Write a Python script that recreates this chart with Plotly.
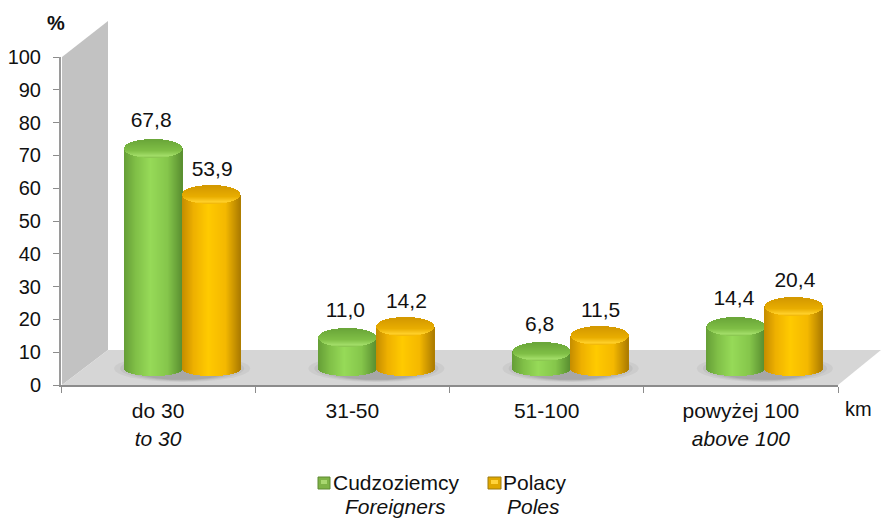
import math
import plotly.graph_objects as go

categories = ["do 30<br><i>to 30</i>", "31-50", "51-100", "powyżej 100<br><i>above 100</i>"]
foreigners = [67.8, 11.0, 6.8, 14.4]
poles = [53.9, 14.2, 11.5, 20.4]
y_ticks = list(range(0, 101, 10))
FONT = "Liberation Sans, Arial, sans-serif"
TEXT = "#111111"

W, H = 881, 520
L, R, T, B = 61, 43, 57, 135
PW, PH = W - L - R, H - T - B
UX = PW / 4          # px per category
UY = 3.33            # px per unit on bar axis
ZERO_PX = 374        # pixel of value 0 on the bar axis
SHIFT = 24 / UX      # depth shift of bars vs. axis categories


def hexrgb(c):
    return tuple(int(c[i:i + 2], 16) for i in (1, 3, 5))


def ramp(stops, p):
    for (p0, c0), (p1, c1) in zip(stops, stops[1:]):
        if p <= p1:
            f = (p - p0) / (p1 - p0) if p1 > p0 else 0
            a, b = hexrgb(c0), hexrgb(c1)
            return "rgb(%d,%d,%d)" % tuple(round(a[i] + (b[i] - a[i]) * f) for i in range(3))
    return stops[-1][1]


GREEN_BODY = [(-1, "#659e36"), (-.6, "#80bf47"), (-.1, "#96da58"), (.5, "#85c64b"), (1, "#598f30")]
ORANGE_BODY = [(-1, "#c48c00"), (-.6, "#eeb000"), (-.1, "#ffca00"), (.5, "#f4b800"), (1, "#ad7c00")]
GREEN_CAP = [(0, "#6aa639"), (.6, "#80bf46"), (.88, "#a2dd68"), (1, "#86c24b")]
ORANGE_CAP = [(0, "#d39800"), (.6, "#e9ae00"), (.88, "#ffd02a"), (1, "#f0b400")]

HALF_W = 29 / UX
CAP_B = 9 / UY
BOT_B = 7 / UY
EDGE = 5 / UY
STEP_X = 1 / UX


def cylinder_traces(values, dx, body, cap, name):
    xs, bases, hs, cols = [], [], [], []
    cap_y, cap_base, cap_w, cap_cols = [], [], [], []
    n = int(round(2 * HALF_W / STEP_X))
    for i, v in enumerate(values):
        c = i + dx
        for k in range(n):
            t = -1 + (2 * k + 1) / n
            base = EDGE - BOT_B * math.sqrt(1 - t * t)
            xs.append(c + HALF_W * t)
            bases.append(base)
            hs.append(v - base)
            cols.append(ramp(body, t))
        m = 18
        for k in range(m):
            s = -1 + (2 * k + 1) / m
            hw = HALF_W * math.sqrt(1 - s * s)
            cap_y.append(v + CAP_B * s)
            cap_base.append(c - hw)
            cap_w.append(2 * hw)
            cap_cols.append(ramp(cap, 1 - (k + .5) / m))
    return [
        go.Bar(x=xs, y=hs, base=bases, width=STEP_X, marker=dict(color=cols, line=dict(width=0)),
               xaxis="x2", yaxis="y2", hoverinfo="skip", showlegend=False, name=name),
        go.Bar(y=cap_y, x=cap_w, base=cap_base, orientation="h", width=2 * CAP_B / 18,
               marker=dict(color=cap_cols, line=dict(width=0)),
               xaxis="x2", yaxis="y2", hoverinfo="skip", showlegend=False, name=name + " cap"),
    ]


DX = 29 / UX
fig = go.Figure()
# anchors the visible axes
fig.add_trace(go.Scatter(x=[0], y=[0], mode="markers", marker=dict(opacity=0), hoverinfo="skip",
                         showlegend=False, name="axes"))
fig.add_traces(cylinder_traces(foreigners, -DX, GREEN_BODY, GREEN_CAP, "Cudzoziemcy"))
fig.add_traces(cylinder_traces(poles, DX, ORANGE_BODY, ORANGE_CAP, "Polacy"))


def label_trace(values, dx, dy, name):
    return go.Scatter(x=[i + dx for i in range(len(values))], y=[v + dy for v in values],
                      text=[f"{v:.1f}".replace(".", ",") for v in values],
                      mode="text", textposition="middle center",
                      textfont=dict(family=FONT, size=21, color=TEXT),
                      xaxis="x2", yaxis="y2", hoverinfo="skip", showlegend=False, name=name)


fig.add_trace(label_trace(foreigners, -DX - 2 / UX, 26 / UY, "Cudzoziemcy labels"))
fig.add_trace(label_trace(poles, DX + 1 / UX, 24 / UY, "Polacy labels"))


def px(x):
    return (x - L) / PW


def py(y):
    return (T + PH - y) / PH


def poly(pts):
    return "M" + " L".join(f"{px(a):.5f},{py(b):.5f}" for a, b in pts) + " Z"


shapes = [
    dict(type="path", xref="paper", yref="paper", layer="below", line=dict(width=0), fillcolor="#c2c2c2",
         path=poly([(62, 57), (108, 21), (108, 350), (62, 385)])),
    dict(type="path", xref="paper", yref="paper", layer="below", line=dict(width=0), fillcolor="#d6d6d6",
         path=poly([(62, 385), (108, 350), (881, 350), (838, 385)])),
]
# soft contact shadows under each pair of cylinders
for i in range(len(categories)):
    for grow, alpha in ((0, .07), (6, .09), (12, .12), (18, .14)):
        shapes.append(dict(type="circle", xref="x2", yref="y2", layer="below", line=dict(width=0),
                           fillcolor=f"rgba(90,90,90,{alpha})",
                           x0=i - (68 - grow) / UX, x1=i + (68 - grow) / UX,
                           y0=(-3 + grow / 8) / UY - 1.5, y1=(14 - grow / 8) / UY + 1.5))

# legend swatches
LEG = [(318, 330, "#7fb347", "#a9d770", "#5f8a32"), (488, 501, "#e0a800", "#ffd43c", "#9c7a10")]
for x0, x1, fill, hi, edge in LEG:
    shapes.append(dict(type="rect", xref="paper", yref="paper", layer="above",
                       x0=px(x0), x1=px(x1), y0=py(477), y1=py(489),
                       fillcolor=fill, line=dict(color=edge, width=1)))
    shapes.append(dict(type="rect", xref="paper", yref="paper", layer="above",
                       x0=px(x0 + 3), x1=px(x1 - 3), y0=py(480), y1=py(484),
                       fillcolor=hi, line=dict(width=0)))


def note(text, x, y, size=21, anchor="center"):
    return dict(text=text, xref="paper", yref="paper", x=px(x), y=py(y), showarrow=False,
                xanchor=anchor, yanchor="middle", font=dict(family=FONT, size=size, color=TEXT))


annotations = [
    note("<b>%</b>", 56, 23, 20),
    note("km", 858, 409, 20),
    note("Cudzoziemcy", 331, 482, anchor="left"),
    note("<i>Foreigners</i>", 343, 506, anchor="left"),
    note("Polacy", 501, 482, anchor="left"),
    note("<i>Poles</i>", 505, 506, anchor="left"),
]

fig.update_layout(
    width=W, height=H, autosize=False, barmode="overlay", bargap=0,
    margin=dict(l=L, r=R, t=T, b=B, pad=0),
    paper_bgcolor="white", plot_bgcolor="rgba(0,0,0,0)", showlegend=False,
    font=dict(family=FONT, size=20, color=TEXT),
    shapes=shapes, annotations=annotations,
    xaxis=dict(range=[-.5, 3.5], tickmode="array", tickvals=list(range(4)), ticktext=categories,
               ticks="", showgrid=False, zeroline=False, showline=True, linecolor="#8c8c8c", linewidth=2,
               ticklabelstandoff=6, automargin=False,
               minor=dict(tickmode="array", tickvals=[-.5, .5, 1.5, 2.5, 3.5], ticks="outside",
                          ticklen=6, tickcolor="#8c8c8c", tickwidth=1, showgrid=False),
               tickfont=dict(family=FONT, size=21, color=TEXT), fixedrange=True),
    yaxis=dict(range=[0, 100], tickmode="array", tickvals=y_ticks, ticks="outside", ticklen=6,
               tickcolor="#8c8c8c", tickwidth=1, showgrid=False, zeroline=False, showline=True,
               linecolor="#9a9a9a", linewidth=2, ticklabelstandoff=8, automargin=False,
               tickfont=dict(family=FONT, size=20, color=TEXT), fixedrange=True),
    xaxis2=dict(overlaying="x", anchor="y2", visible=False, range=[-.5 - SHIFT, 3.5 - SHIFT], fixedrange=True),
    yaxis2=dict(overlaying="y", anchor="x2", visible=False,
                range=[(ZERO_PX - (T + PH)) / UY, (ZERO_PX - T) / UY], fixedrange=True),
)

fig.write_html("out.html", config=dict(displayModeBar=False),
               post_script="document.body.style.margin='0';document.documentElement.style.overflow='hidden';")
